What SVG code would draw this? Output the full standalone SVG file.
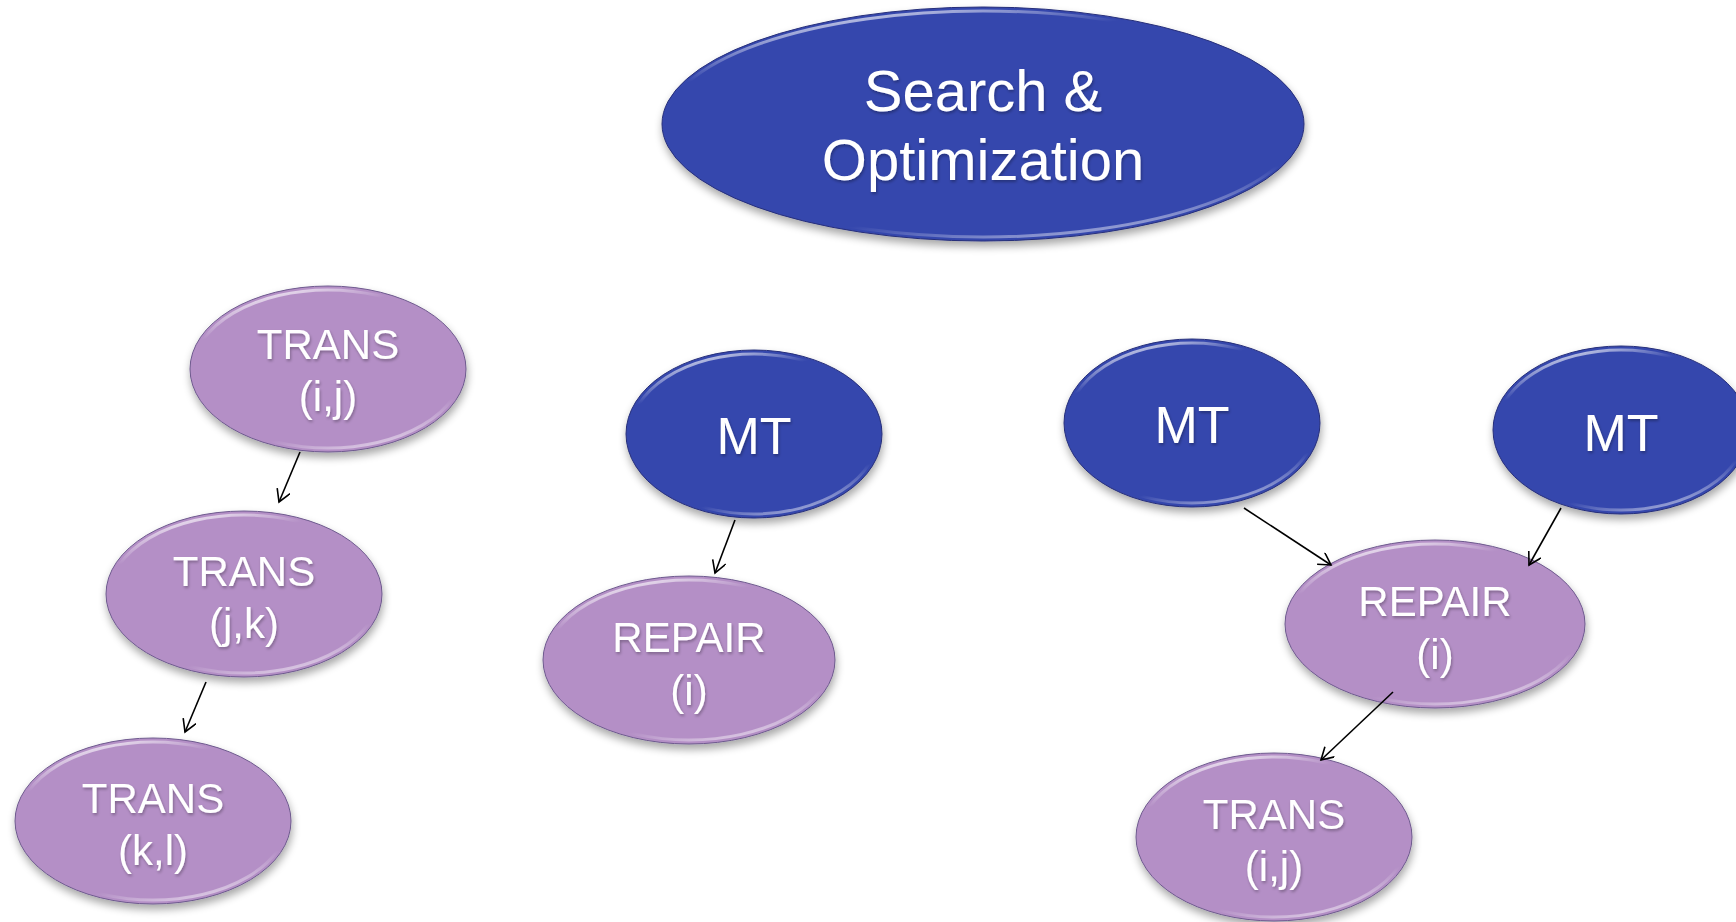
<svg xmlns="http://www.w3.org/2000/svg" width="1736" height="922" viewBox="0 0 1736 922">
  <style>
    .blue { fill: #3546AD; stroke: #27307a; stroke-width: 1; }
    .purple { fill: #B48FC6; stroke: #6e5a8e; stroke-width: 1; }
    .rim { fill: none; stroke: url(#rimGrad); stroke-width: 3; }
    .lbl { font-family: "Liberation Sans", Arial, sans-serif; fill: #ffffff; text-anchor: middle; }
    .big { font-size: 58px; }
    .mid { font-size: 52px; }
    .sm { font-size: 42px; }
    .conn { stroke: #000000; stroke-width: 1.6; fill: none; marker-end: url(#arrow); }
  </style>
  <defs>
    <linearGradient id="rimGrad" x1="0.3" y1="0" x2="0.7" y2="1">
      <stop offset="0" stop-color="#ffffff" stop-opacity="0.75"/>
      <stop offset="0.18" stop-color="#ffffff" stop-opacity="0"/>
      <stop offset="0.82" stop-color="#ffffff" stop-opacity="0"/>
      <stop offset="1" stop-color="#ffffff" stop-opacity="0.55"/>
    </linearGradient>
    <filter id="shadow" x="-10%" y="-10%" width="120%" height="130%">
      <feGaussianBlur in="SourceAlpha" stdDeviation="4"/>
      <feOffset dx="1" dy="5" result="b"/>
      <feComponentTransfer><feFuncA type="linear" slope="0.35"/></feComponentTransfer>
      <feMerge><feMergeNode/><feMergeNode in="SourceGraphic"/></feMerge>
    </filter>
    <filter id="tshadow" x="-10%" y="-20%" width="120%" height="140%">
      <feGaussianBlur in="SourceAlpha" stdDeviation="1.5"/>
      <feOffset dx="1" dy="2"/>
      <feComponentTransfer><feFuncA type="linear" slope="0.3"/></feComponentTransfer>
      <feMerge><feMergeNode/><feMergeNode in="SourceGraphic"/></feMerge>
    </filter>
    <marker id="arrow" markerUnits="userSpaceOnUse" markerWidth="16" markerHeight="16" refX="13" refY="7" orient="auto">
      <path d="M1,0 L13,7 L1,14" fill="none" stroke="#000000" stroke-width="1.6"/>
    </marker>
  </defs>

  <g id="search-optimization">
    <ellipse class="blue" cx="983" cy="124" rx="321" ry="117" filter="url(#shadow)"/>
    <ellipse class="rim" cx="983" cy="124" rx="317" ry="113"/>
    <g filter="url(#tshadow)">
      <text class="lbl big" x="983" y="111">Search &amp;</text>
      <text class="lbl big" x="983" y="180">Optimization</text>
    </g>
  </g>

  <g id="trans-ij-left">
    <ellipse class="purple" cx="328" cy="369" rx="138" ry="83" filter="url(#shadow)"/>
    <ellipse class="rim" cx="328" cy="369" rx="134" ry="79"/>
    <g filter="url(#tshadow)">
      <text class="lbl sm" x="328" y="359">TRANS</text>
      <text class="lbl sm" x="328" y="411">(i,j)</text>
    </g>
  </g>

  <g id="trans-jk">
    <ellipse class="purple" cx="244" cy="594" rx="138" ry="83" filter="url(#shadow)"/>
    <ellipse class="rim" cx="244" cy="594" rx="134" ry="79"/>
    <g filter="url(#tshadow)">
      <text class="lbl sm" x="244" y="586">TRANS</text>
      <text class="lbl sm" x="244" y="638">(j,k)</text>
    </g>
  </g>

  <g id="trans-kl">
    <ellipse class="purple" cx="153" cy="821" rx="138" ry="83" filter="url(#shadow)"/>
    <ellipse class="rim" cx="153" cy="821" rx="134" ry="79"/>
    <g filter="url(#tshadow)">
      <text class="lbl sm" x="153" y="813">TRANS</text>
      <text class="lbl sm" x="153" y="865">(k,l)</text>
    </g>
  </g>

  <g id="mt-center">
    <ellipse class="blue" cx="754" cy="434" rx="128" ry="84" filter="url(#shadow)"/>
    <ellipse class="rim" cx="754" cy="434" rx="124" ry="80"/>
    <text class="lbl mid" x="754" y="454" filter="url(#tshadow)">MT</text>
  </g>

  <g id="repair-center">
    <ellipse class="purple" cx="689" cy="660" rx="146" ry="84" filter="url(#shadow)"/>
    <ellipse class="rim" cx="689" cy="660" rx="142" ry="80"/>
    <g filter="url(#tshadow)">
      <text class="lbl sm" x="689" y="652">REPAIR</text>
      <text class="lbl sm" x="689" y="705">(i)</text>
    </g>
  </g>

  <g id="mt-right-a">
    <ellipse class="blue" cx="1192" cy="423" rx="128" ry="84" filter="url(#shadow)"/>
    <ellipse class="rim" cx="1192" cy="423" rx="124" ry="80"/>
    <text class="lbl mid" x="1192" y="443" filter="url(#tshadow)">MT</text>
  </g>

  <g id="mt-right-b">
    <ellipse class="blue" cx="1621" cy="430" rx="128" ry="84" filter="url(#shadow)"/>
    <ellipse class="rim" cx="1621" cy="430" rx="124" ry="80"/>
    <text class="lbl mid" x="1621" y="451" filter="url(#tshadow)">MT</text>
  </g>

  <g id="repair-right">
    <ellipse class="purple" cx="1435" cy="624" rx="150" ry="84" filter="url(#shadow)"/>
    <ellipse class="rim" cx="1435" cy="624" rx="146" ry="80"/>
    <g filter="url(#tshadow)">
      <text class="lbl sm" x="1435" y="616">REPAIR</text>
      <text class="lbl sm" x="1435" y="669">(i)</text>
    </g>
  </g>

  <g id="trans-ij-right">
    <ellipse class="purple" cx="1274" cy="837" rx="138" ry="84" filter="url(#shadow)"/>
    <ellipse class="rim" cx="1274" cy="837" rx="134" ry="80"/>
    <g filter="url(#tshadow)">
      <text class="lbl sm" x="1274" y="829">TRANS</text>
      <text class="lbl sm" x="1274" y="881">(i,j)</text>
    </g>
  </g>

  <g id="connectors">
    <line class="conn" x1="300" y1="452" x2="279" y2="502"/>
    <line class="conn" x1="206" y1="682" x2="185" y2="732"/>
    <line class="conn" x1="735" y1="520" x2="715" y2="573"/>
    <line class="conn" x1="1244" y1="508" x2="1331" y2="565"/>
    <line class="conn" x1="1561" y1="508" x2="1529" y2="565"/>
    <line class="conn" x1="1393" y1="692" x2="1321" y2="760"/>
  </g>
</svg>
